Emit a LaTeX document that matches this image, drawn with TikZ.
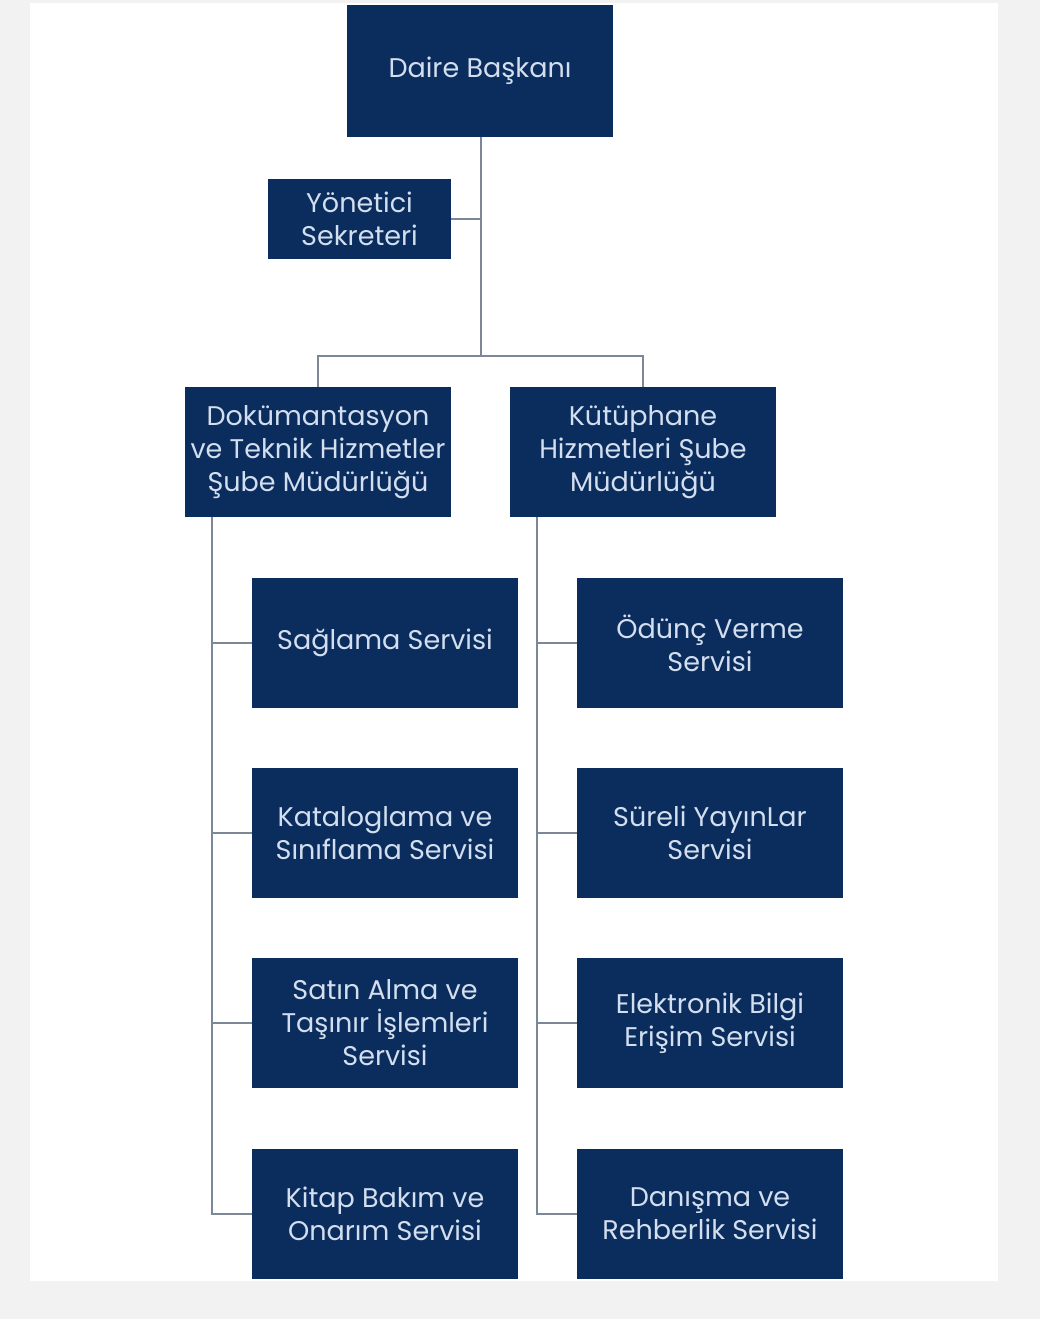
\documentclass[tikz,border=0pt]{standalone}
\usepackage{fontspec}
\setmainfont{Poppins}
\definecolor{navy}{HTML}{0B2D5E}
\definecolor{txt}{HTML}{D3DEEE}
\definecolor{conn}{HTML}{7C8798}
\definecolor{outer}{HTML}{F2F2F2}
\begin{document}
\begin{tikzpicture}[x=1pt,y=-1pt,
  box/.style={fill=navy,draw=none,text=txt,align=center,font=\fontsize{27}{33}\selectfont,inner sep=0pt},
  link/.style={draw=conn,line width=2pt}]
\fill[outer] (0,0) rectangle (1040,1319);
\fill[white] (30,3) rectangle (998,1281);
\useasboundingbox (0,0) rectangle (1040,1319);
% boxes
\node[box,minimum width=266,minimum height=132] (daire) at (480,71) {Daire Başkanı};
\node[box,minimum width=183,minimum height=80] (yon) at (359.5,219) {Yönetici\\Sekreteri};
\node[box,minimum width=266,minimum height=130] (dok) at (318,452) {Dokümantasyon\\ve Teknik Hizmetler\\Şube Müdürlüğü};
\node[box,minimum width=266,minimum height=130] (kut) at (643,452) {Kütüphane\\Hizmetleri Şube\\Müdürlüğü};
\node[box,minimum width=266,minimum height=130] (l1) at (385,643) {Sağlama Servisi};
\node[box,minimum width=266,minimum height=130] (l2) at (385,833) {Kataloglama ve\\Sınıflama Servisi};
\node[box,minimum width=266,minimum height=130] (l3) at (385,1023) {Satın Alma ve\\Taşınır İşlemleri\\Servisi};
\node[box,minimum width=266,minimum height=130] (l4) at (385,1214) {Kitap Bakım ve\\Onarım Servisi};
\node[box,minimum width=266,minimum height=130] (r1) at (710,643) {Ödünç Verme\\Servisi};
\node[box,minimum width=266,minimum height=130] (r2) at (710,833) {Süreli YayınLar\\Servisi};
\node[box,minimum width=266,minimum height=130] (r3) at (710,1023) {Elektronik Bilgi\\Erişim Servisi};
\node[box,minimum width=266,minimum height=130] (r4) at (710,1214) {Danışma ve\\Rehberlik Servisi};
% connectors
\coordinate (bus) at (481,356);
\draw[link] (daire.south -| bus) -- (bus);
\draw[link] (yon.east) -- (yon.east -| bus);
\draw[link] (dok.north) |- (bus) -| (kut.north);
\coordinate (lx) at (212,0);
\coordinate (rx) at (537,0);
\draw[link] (dok.south -| lx) |- (l4.west);
\foreach \n in {l1,l2,l3} \draw[link] (\n.west -| lx) -- (\n.west);
\draw[link] (kut.south -| rx) |- (r4.west);
\foreach \n in {r1,r2,r3} \draw[link] (\n.west -| rx) -- (\n.west);
\end{tikzpicture}
\end{document}
